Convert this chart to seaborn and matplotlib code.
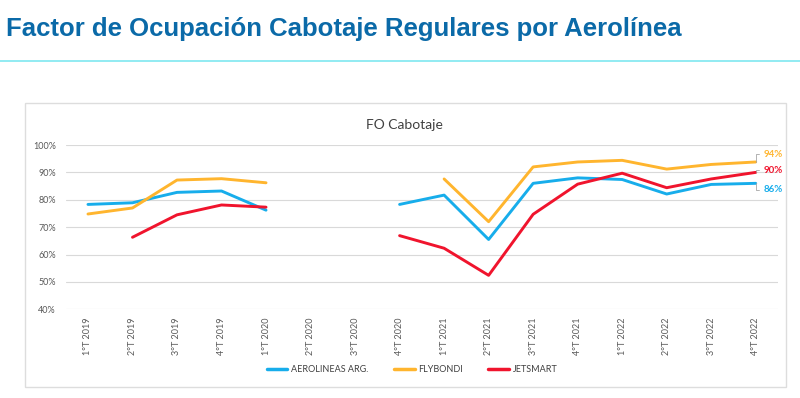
import numpy as np
import pandas as pd
import matplotlib
matplotlib.use("Agg")
import matplotlib.pyplot as plt
import matplotlib.patches as patches
from matplotlib.lines import Line2D
from matplotlib.ticker import PercentFormatter
import seaborn as sns

sns.set_theme(style="white")
plt.rcParams["font.family"] = ["Lato", "DejaVu Sans"]

quarters = ["1°T 2019", "2°T 2019", "3°T 2019", "4°T 2019",
            "1°T 2020", "2°T 2020", "3°T 2020", "4°T 2020",
            "1°T 2021", "2°T 2021", "3°T 2021", "4°T 2021",
            "1°T 2022", "2°T 2022", "3°T 2022", "4°T 2022"]
nan = np.nan
aerolineas = [0.783, 0.789, 0.827, 0.832, 0.762, nan, nan, 0.783,
              0.817, 0.655, 0.860, 0.880, 0.874, 0.821, 0.856, 0.860]
flybondi = [0.748, 0.770, 0.872, 0.877, 0.862, nan, nan, nan,
            0.876, 0.720, 0.920, 0.938, 0.944, 0.912, 0.929, 0.938]
jetsmart = [nan, 0.663, 0.745, 0.781, 0.773, nan, nan, 0.669,
            0.623, 0.524, 0.747, 0.857, 0.897, 0.844, 0.876, 0.900]

series = {"AEROLINEAS ARG.": aerolineas, "FLYBONDI": flybondi, "JETSMART": jetsmart}
colors = {"AEROLINEAS ARG.": "#17ADEB", "FLYBONDI": "#FFB52E", "JETSMART": "#F0142D"}

# long form, with a segment id so gaps stay open
rows = []
for name, vals in series.items():
    seg = 0
    for i, v in enumerate(vals):
        if np.isnan(v):
            seg += 1
            continue
        rows.append({"airline": name, "x": i, "fo": v, "seg": f"{name}-{seg}"})
df = pd.DataFrame(rows)

fig = plt.figure(figsize=(8, 3.98), dpi=100)
H = 398.0

fig.text(0.008, 1 - 29 / H, "Factor de Ocupación Cabotaje Regulares por Aerolínea",
         fontsize=18.5, fontweight="bold", color="#0B6AA8", va="center", ha="left",
         family=["Liberation Sans", "DejaVu Sans"])
fig.add_artist(Line2D([0, 1], [1 - 61 / H, 1 - 61 / H], color="#7FE8F0", lw=1.2))
fig.add_artist(patches.Rectangle((25 / 800, 1 - 387 / H), 761 / 800, 284 / H,
                                 fill=False, edgecolor="#DDDDDD", lw=1))
fig.text(404 / 800, 1 - 125 / H, "FO Cabotaje", fontsize=10, color="#404040",
         ha="center", va="center")

ax = fig.add_axes([65.7 / 800, 1 - 309.3 / H, 712.3 / 800, 164.3 / H])
sns.lineplot(data=df, x="x", y="fo", hue="airline", units="seg", estimator=None,
             palette=colors, lw=2.1, ax=ax, legend=False)

ax.set_xlim(-0.5, len(quarters) - 0.5)
ax.set_ylim(0.40, 1.00)
ax.set_yticks(np.arange(0.4, 1.01, 0.1))
ax.yaxis.set_major_formatter(PercentFormatter(1.0, decimals=0))
ax.set_xticks(range(len(quarters)))
ax.set_xticklabels(quarters, rotation=90)
ax.tick_params(axis="both", length=0, labelsize=6.5, labelcolor="#595959")
ax.tick_params(axis="x", pad=6)
ax.tick_params(axis="y", pad=7)
ax.grid(axis="y", color="#D9D9D9", lw=0.8)
for s in ax.spines.values():
    s.set_visible(False)
ax.set_xlabel("")
ax.set_ylabel("")

# end labels
last = len(quarters) - 1
offsets = {"FLYBONDI": 5.5, "JETSMART": 1.5, "AEROLINEAS ARG.": -4.5}
for name, dy in offsets.items():
    v = series[name][last]
    ax.annotate(f"{v:.0%}", xy=(last, v), xytext=(6, dy), textcoords="offset points",
                fontsize=7, fontweight="bold", color=colors[name], va="center",
                arrowprops=dict(arrowstyle="-", color="#A6A6A6", lw=0.6,
                                connectionstyle="angle,angleA=0,angleB=90",
                                relpos=(0, 0.5), shrinkA=1, shrinkB=0))

handles = [Line2D([0], [0], color=colors[n], lw=2.5) for n in series]
fig.legend(handles, list(series), loc="center", bbox_to_anchor=(412 / 800, 1 - 370 / H),
           ncol=3, frameon=False, fontsize=6.5, handlelength=2.3, handletextpad=0.4,
           columnspacing=2.8, labelcolor="#404040")

fig.savefig("out.png", dpi=100)
